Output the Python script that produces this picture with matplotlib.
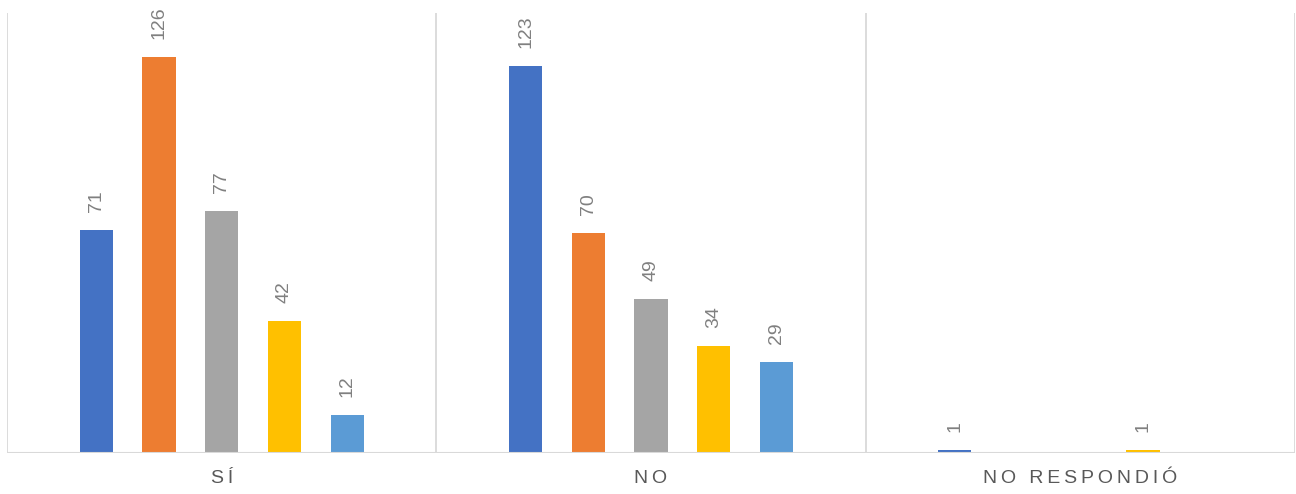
import matplotlib
matplotlib.use("Agg")
import matplotlib.pyplot as plt
import numpy as np

categories = ["SÍ", "NO", "NO RESPONDIÓ"]
series_names = ["Serie 1", "Serie 2", "Serie 3", "Serie 4", "Serie 5"]
values = [
    [71, 123, 1],
    [126, 70, 0],
    [77, 49, 0],
    [42, 34, 1],
    [12, 29, 0],
]
colors = ["#4472C4", "#ED7D31", "#A5A5A5", "#FFC000", "#5B9BD5"]

W, H = 1296, 494
fig = plt.figure(figsize=(W / 100, H / 100), dpi=100)
ax = fig.add_axes([7 / W, (H - 453) / H, (1295 - 7) / W, (453 - 13) / H])

x = np.arange(len(categories))
step = 0.146
width = 0.077
n = len(series_names)
for i, (name, vals, c) in enumerate(zip(series_names, values, colors)):
    pos = x + (i - (n - 1) / 2) * step
    for xp, v in zip(pos, vals):
        if v <= 0:
            continue
        ax.bar(xp, v, width=width, color=c, zorder=3)
        ax.annotate(str(v), (xp, v), xytext=(0, 13), textcoords="offset points",
                    rotation=90, ha="center", va="bottom", fontsize=14,
                    color="#808080", family=["Liberation Sans", "DejaVu Sans"])

ax.set_xlim(-0.5, len(categories) - 0.5)
ax.set_ylim(0, 140)
for b in np.arange(-0.5, len(categories), 1.0):
    ax.axvline(b, color="#D9D9D9", lw=1.3, zorder=1)

for s in ax.spines.values():
    s.set_visible(False)
ax.axhline(0, color="#D9D9D9", lw=1.5, zorder=4)
ax.set_yticks([])

def spaced(t):
    return "\u2009".join(list(t))

ax.set_xticks(x)
ax.set_xticklabels([spaced(c) for c in categories], fontsize=14, color="#595959",
                   family=["Liberation Sans", "DejaVu Sans"])
ax.tick_params(axis="x", length=0, pad=12)

fig.savefig("out.png", dpi=100)
